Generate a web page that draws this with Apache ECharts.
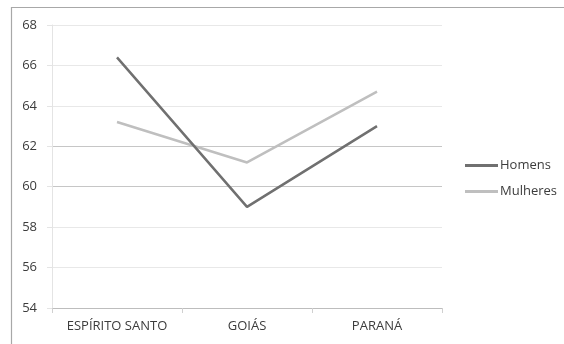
<!DOCTYPE html>
<html>
<head>
<meta charset="utf-8">
<script src="https://cdn.jsdelivr.net/npm/echarts@6/dist/echarts.min.js"></script>
<style>
  html, body { margin: 0; padding: 0; background: #fff; }
  #chart { width: 564px; height: 344px; }
</style>
</head>
<body>
<div id="chart"></div>
<script>
// Estados (eixo das categorias)
const categories = ['ESPÍRITO SANTO', 'GOIÁS', 'PARANÁ'];
// Valores por sexo
const homens = [66.4, 59.0, 63.0];
const mulheres = [63.2, 61.2, 64.7];
// Eixo vertical
const yMin = 54;
const yMax = 68;
const yStep = 2;

const fontFamily = '"Open Sans", "Liberation Sans", sans-serif';
const textColor = '#3c3c3c';

// Linhas de grade: 60 e 62 um pouco mais escuras que as demais
const gridColors = ['#e8e8e8', '#e8e8e8', '#e8e8e8', '#c6c6c6', '#c6c6c6', '#e8e8e8', '#e8e8e8', '#e8e8e8'];

const chart = echarts.init(document.getElementById('chart'), null, { renderer: 'canvas' });

chart.setOption({
  animation: false,
  backgroundColor: '#ffffff',
  textStyle: { fontFamily: fontFamily },
  graphic: [{
    type: 'rect',
    shape: { x: 11.5, y: 7.5, width: 600, height: 400 },
    style: { fill: 'none', stroke: '#a8a8a8', lineWidth: 1.2 },
    silent: true
  }],
  grid: { left: 52, top: 25, width: 390, height: 283, containLabel: false },
  legend: {
    orient: 'vertical',
    left: 465,
    top: 159,
    padding: 0,
    itemWidth: 33,
    itemHeight: 3,
    itemGap: 13,
    icon: 'rect',
    textStyle: { fontSize: 13, color: textColor, fontFamily: fontFamily, padding: [0, 0, 0, -3] },
    data: ['Homens', 'Mulheres']
  },
  xAxis: {
    type: 'category',
    data: categories,
    boundaryGap: true,
    axisLine: { show: true, lineStyle: { color: '#bdbdbd', width: 1 } },
    axisTick: { show: true, length: 5, lineStyle: { color: '#d0d0d0' } },
    axisLabel: { interval: 0, fontSize: 13, color: textColor, margin: 12, fontFamily: fontFamily },
    splitLine: { show: false }
  },
  yAxis: {
    type: 'value',
    min: yMin,
    max: yMax,
    interval: yStep,
    axisLine: { show: true, lineStyle: { color: '#e4e4e4', width: 1 } },
    axisTick: { show: true, length: 5, lineStyle: { color: '#e4e4e4' } },
    axisLabel: { fontSize: 13, color: textColor, margin: 15, fontFamily: fontFamily },
    splitLine: { show: true, lineStyle: { color: gridColors, width: 1 } }
  },
  series: [
    {
      name: 'Homens',
      type: 'line',
      data: homens,
      symbol: 'none',
      lineStyle: { color: '#707070', width: 2.5 },
      itemStyle: { color: '#707070' },
      z: 3
    },
    {
      name: 'Mulheres',
      type: 'line',
      data: mulheres,
      symbol: 'none',
      lineStyle: { color: '#bfbfbf', width: 2.5 },
      itemStyle: { color: '#bfbfbf' },
      z: 2
    }
  ]
});
</script>
</body>
</html>
